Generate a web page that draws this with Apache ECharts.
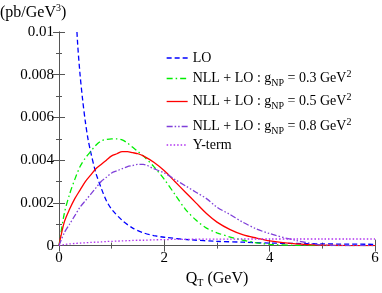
<!DOCTYPE html>
<html><head><meta charset="utf-8">
<script src="https://cdn.jsdelivr.net/npm/echarts@6/dist/echarts.min.js"></script>
<style>html,body{margin:0;padding:0;background:#fff}#c{width:382px;height:293px}</style>
</head><body><div id="c"></div>
<script>
// Shared Q_T grid (GeV)
const qt = [0,0.1,0.2,0.3,0.4,0.5,0.6,0.7,0.8,0.9,1.0,1.1,1.2,1.3,1.4,1.5,1.6,1.8,2.0,2.2,2.4,2.6,2.8,3.0,3.25,3.5,3.75,4.0,4.5,5.0,5.5,6.0];
const nll03 = [0,0.0015,0.0024,0.0031,0.0037,0.0041,0.0044,0.0047,0.0049,0.00497,0.0050,0.0050,0.00495,0.0048,0.0046,0.0044,0.0042,0.0037,0.0031,0.0024,0.0017,0.0012,0.00082,0.0006,0.0004,0.00025,0.00013,0.00006,0.00001,0,0,0];
const nll05 = [0,0.0011,0.0017,0.0022,0.0026,0.0030,0.0033,0.0036,0.0038,0.0040,0.0042,0.0043,0.0044,0.0044,0.00435,0.0043,0.0042,0.0039,0.0035,0.0030,0.0025,0.0020,0.0015,0.0011,0.00075,0.0005,0.00035,0.00022,0.00008,0.00002,0,0];
const nll08 = [0,0.0006,0.0010,0.0014,0.0018,0.0021,0.0024,0.0027,0.0030,0.0032,0.0034,0.0035,0.0036,0.0037,0.00375,0.0038,0.0038,0.0036,0.0034,0.0031,0.0028,0.0025,0.0022,0.0018,0.00145,0.00108,0.00078,0.00056,0.00024,0.00003,0,0];
const yterm = [0,0.00005,0.00008,0.0001,0.00012,0.00013,0.00015,0.00016,0.00017,0.00019,0.0002,0.00021,0.00022,0.00023,0.00024,0.00025,0.00025,0.00027,0.00028,0.00029,0.00029,0.0003,0.0003,0.0003,0.0003,0.00031,0.00031,0.00031,0.00031,0.00031,0.00031,0.00031];
// LO on its own grid
const qtLO = [0.25,0.3,0.35,0.4,0.45,0.5,0.55,0.6,0.7,0.8,0.9,1.0,1.2,1.4,1.6,1.8,2.0,2.5,3.0,3.5,4.0,5.0,6.0];
const lo = [0.016,0.0122,0.0096,0.0080,0.0068,0.0058,0.0050,0.0044,0.0034,0.0027,0.0021,0.0017,0.00118,0.00082,0.0006,0.00047,0.00039,0.00027,0.0002,0.00016,0.00012,0.00008,0.00006];
const names = ['LO','NLL03','NLL05','NLL08','Yterm'];
const legendText = {
  LO: '{t|LO}',
  NLL03: '{t|NLL + LO : g}{sub|NP}{t| = 0.3 GeV}{sup|2}',
  NLL05: '{t|NLL + LO : g}{sub|NP}{t| = 0.5 GeV}{sup|2}',
  NLL08: '{t|NLL + LO : g}{sub|NP}{t| = 0.8 GeV}{sup|2}',
  Yterm: '{t|Y-term}'
};
const xTicks = [0,2,4,6];
const yTicks = [0,0.002,0.004,0.006,0.008,0.01];

const F = '"Liberation Serif", "DejaVu Serif", serif';
const pair = (xs, ys) => xs.map((x,i)=>[x, ys[i]]);
const rich = {
  t:{fontFamily:F,fontSize:14,color:'#000',lineHeight:18},
  sub:{fontFamily:F,fontSize:10,color:'#000',lineHeight:18,padding:[9,0,0,0]},
  sup:{fontFamily:F,fontSize:10,color:'#000',lineHeight:18,padding:[0,0,9,0]}
};
const styles = [
  {color:'#0000ff', type:[5,3]},
  {color:'#00ee00', type:[6,3,1.5,3]},
  {color:'#ff0000', type:'solid'},
  {color:'#7f3fd9', type:[6,2,1.5,2,1.5,2]},
  {color:'#b030f0', type:[1.5,2]}
];
const legendTops = [51,69,92,117,138];
function mkLegend(n,i){
  return {data:[n], orient:'vertical', left:166, top:legendTops[i], padding:0, itemWidth:21, itemHeight:10,
    itemStyle:{opacity:0}, lineStyle:{type:styles[i].type, width:1.3, color:styles[i].color},
    formatter:(nm)=>legendText[nm], textStyle:{fontFamily:F, rich:rich}, selectedMode:false};
}
const chart = echarts.init(document.getElementById('c'), null, {renderer:'canvas'});
const axisCommon = {
  axisLine:{lineStyle:{color:'#555',width:1}},
  axisTick:{inside:true,length:6,lineStyle:{color:'#555'}},
  minorTick:{show:true,splitNumber:2,length:3,lineStyle:{color:'#555'}},
  splitLine:{show:false}
};
const seriesData = [pair(qtLO, lo), pair(qt, nll03), pair(qt, nll05), pair(qt, nll08), pair(qt, yterm)];
const series = names.map((n,i)=>({type:'line', name:n, data:seriesData[i], smooth:0.3, showSymbol:false, symbol:'none',
  clip:true, animation:false, itemStyle:{color:styles[i].color},
  lineStyle:{color:styles[i].color, type:styles[i].type, width:1.3}}));

chart.setOption({
  animation:false,
  textStyle:{fontFamily:F},
  title:{text:'{m|(pb/GeV}{sup|3}{m|)}', left:0, top:3, padding:0,
    textStyle:{fontFamily:F,fontSize:16,fontWeight:'normal',color:'#000',
      rich:{m:{fontFamily:F,fontSize:16,fontWeight:'normal',color:'#000'},sup:{fontFamily:F,fontSize:10,fontWeight:'normal',color:'#000',padding:[0,0,10,0]}}}},
  grid:{left:59,right:7,top:32,bottom:40},
  legend: names.map(mkLegend),
  xAxis:[
    Object.assign({type:'value',min:0,max:6,interval:2,position:'bottom',
      name:'{a|Q}{s|T}{a| (GeV)}', nameLocation:'middle', nameGap:13,
      nameTextStyle:{fontFamily:F,rich:{a:{fontFamily:F,fontSize:16,color:'#000'},s:{fontFamily:F,fontSize:10,color:'#000',padding:[9,0,0,0]}}},
      axisLabel:{fontFamily:F,fontSize:15,color:'#000',margin:5,formatter:(v)=>xTicks.includes(v)?String(v):''}}, axisCommon),
    Object.assign({type:'value',min:0,max:6,interval:2,position:'top',axisLabel:{show:false}}, axisCommon)
  ],
  yAxis:[
    Object.assign({type:'value',min:0,max:0.01,interval:0.002,position:'left',
      axisLabel:{fontFamily:F,fontSize:15,color:'#000',margin:5,formatter:(v)=>{const t=yTicks.find(y=>Math.abs(y-v)<1e-9);return t===undefined?'':String(t);}}}, axisCommon),
    Object.assign({type:'value',min:0,max:0.01,interval:0.002,position:'right',axisLabel:{show:false}}, axisCommon)
  ],
  series: series
});
</script></body></html>
